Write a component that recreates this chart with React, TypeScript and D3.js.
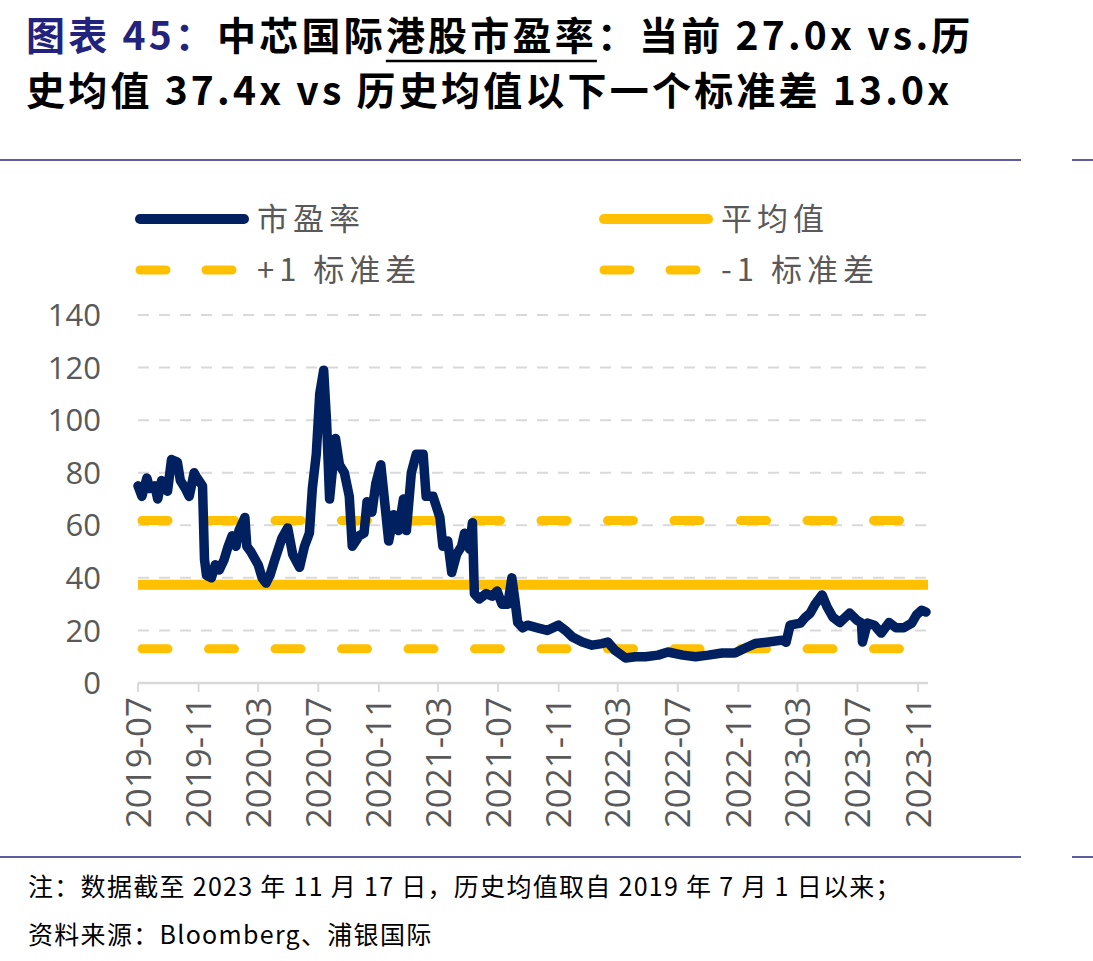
import { useRef, useEffect } from 'react';
import * as d3 from 'd3';

/* ── data ────────────────────────────────────────────────────── */
const DATES = [
  '2019-07-01', '2019-07-09', '2019-07-19', '2019-07-25', '2019-08-04', '2019-08-10', '2019-08-18', '2019-08-30',
  '2019-09-07', '2019-09-19', '2019-09-25', '2019-10-05', '2019-10-13', '2019-10-23', '2019-10-29', '2019-11-09',
  '2019-11-13', '2019-11-17', '2019-11-27', '2019-12-05', '2019-12-13', '2019-12-23', '2019-12-31', '2020-01-08',
  '2020-01-16', '2020-01-22', '2020-02-03', '2020-02-07', '2020-02-15', '2020-03-01', '2020-03-09', '2020-03-17',
  '2020-03-25', '2020-04-04', '2020-04-18', '2020-04-30', '2020-05-10', '2020-05-24', '2020-06-03', '2020-06-13',
  '2020-06-19', '2020-06-27', '2020-07-04', '2020-07-12', '2020-07-18', '2020-07-24', '2020-08-05', '2020-08-13',
  '2020-08-23', '2020-09-02', '2020-09-08', '2020-09-22', '2020-10-02', '2020-10-08', '2020-10-18', '2020-10-26',
  '2020-11-05', '2020-11-15', '2020-11-21', '2020-12-01', '2020-12-11', '2020-12-21', '2020-12-27', '2021-01-06',
  '2021-01-16', '2021-01-30', '2021-02-05', '2021-02-19', '2021-03-05', '2021-03-11', '2021-03-21', '2021-03-29',
  '2021-04-08', '2021-04-18', '2021-04-24', '2021-05-04', '2021-05-10', '2021-05-14', '2021-05-24', '2021-06-07',
  '2021-06-19', '2021-06-29', '2021-07-09', '2021-07-21', '2021-07-29', '2021-08-04', '2021-08-10', '2021-08-20',
  '2021-08-30', '2021-09-19', '2021-10-09', '2021-11-01', '2021-11-15', '2021-11-29', '2021-12-19', '2022-01-08',
  '2022-01-28', '2022-02-09', '2022-02-23', '2022-03-17', '2022-04-06', '2022-04-26', '2022-05-22', '2022-06-11',
  '2022-07-11', '2022-08-06', '2022-09-01', '2022-09-29', '2022-10-25', '2022-11-15', '2022-12-05', '2023-01-01',
  '2023-01-29', '2023-02-06', '2023-02-14', '2023-03-07', '2023-03-17', '2023-03-27', '2023-04-06', '2023-04-20',
  '2023-04-30', '2023-05-12', '2023-05-26', '2023-06-15', '2023-06-29', '2023-07-09', '2023-07-11', '2023-07-21',
  '2023-08-04', '2023-08-18', '2023-09-03', '2023-09-17', '2023-10-03', '2023-10-19', '2023-10-29', '2023-11-08',
  '2023-11-17',
];

const PE = [
  75, 71, 78, 74, 75, 70, 77, 73,
  85, 84, 77, 74, 71, 80, 78, 75,
  47, 41, 40, 45, 43, 47, 52, 56,
  52, 58, 63, 52, 50, 45, 40, 38,
  41, 47, 55, 59, 49, 44, 52, 57,
  74, 87, 110, 119, 99, 70, 93, 83,
  80, 71, 52, 56, 57, 69, 65, 76,
  83, 65, 54, 64, 58, 70, 58, 80,
  87, 87, 71, 71, 63, 52, 54, 42,
  49, 52, 57, 51, 61, 34, 32, 34,
  33, 35, 30, 30, 40, 32, 23, 21,
  22, 21, 20, 22, 20, 17.5, 15.6, 14.4,
  15, 15.6, 12.5, 9.5, 10, 10, 10.6, 11.8,
  10.6, 10, 10.6, 11.4, 11.4, 13.3, 15, 15.6,
  16.3, 15.5, 22, 22.8, 25, 26.6, 30, 33.5,
  29, 25, 23, 26.6, 24, 22.8, 15.6, 22.8,
  22, 19, 23, 21, 21, 22.8, 26, 27.7,
  27.0,
];

const MEAN = 37.4;
const PLUS_SD = 61.8;
const MINUS_SD = 13.0;

const Y_TICKS = [0, 20, 40, 60, 80, 100, 120, 140];
const X_TICKS = [
  '2019-07', '2019-11', '2020-03', '2020-07', '2020-11', '2021-03', '2021-07',
  '2021-11', '2022-03', '2022-07', '2022-11', '2023-03', '2023-07', '2023-11',
];

const LEGEND = [
  { label: '市盈率', color: '#002060', dashed: false },
  { label: '平均值', color: '#FFC000', dashed: false },
  { label: '+1 标准差', color: '#FFC000', dashed: true },
  { label: '-1 标准差', color: '#FFC000', dashed: true },
];

const NAVY = '#002060';
const GOLD = '#FFC000';
const GREY_TXT = '#595959';
const CJK = '"Noto Sans CJK SC", "Noto Sans", sans-serif';
const NUM = '"Open Sans", "Noto Sans", sans-serif';

export default function App() {
  const svgRef = useRef<SVGSVGElement>(null);

  useEffect(() => {
    const svg = d3.select(svgRef.current);
    svg.selectAll('*').remove();

    const W = 1093, H = 961;
    svg.attr('width', W).attr('height', H).attr('viewBox', `0 0 ${W} ${H}`);

    // plot area, in pixels of the reference
    const left = 138, right = 926, top = 315, bottom = 683;

    const parse = d3.timeParse('%Y-%m-%d');
    const parseM = d3.timeParse('%Y-%m');
    const series = DATES.map((d, i) => ({ date: parse(d) as Date, v: PE[i] }));

    const x = d3.scaleTime()
      .domain([parse('2019-07-01') as Date, parse('2023-11-17') as Date])
      .range([left, right]);
    const y = d3.scaleLinear().domain([0, 140]).range([bottom, top]);

    /* ── title ─────────────────────────────── */
    const t1 = svg.append('text')
      .attr('x', 26).attr('y', 50)
      .style('font-family', CJK).style('font-weight', 700).style('font-size', '39px')
      .style('letter-spacing', '3.2px');
    t1.append('tspan').attr('fill', '#23237D').text('图表 45：');
    t1.append('tspan').attr('fill', '#000').text('中芯国际港股市盈率：当前 27.0x vs.历');

    svg.append('text')
      .attr('x', 26).attr('y', 105)
      .style('font-family', CJK).style('font-weight', 700).style('font-size', '39px')
      .style('letter-spacing', '3.2px')
      .attr('fill', '#000')
      .text('史均值 37.4x vs 历史均值以下一个标准差 13.0x');

    // underline under 港股市盈率
    const tNode = t1.node() as SVGTextElement;
    const pre = '图表 45：中芯国际'.length;
    try {
      const sx = tNode.getStartPositionOfChar(pre).x;
      const ex = tNode.getEndPositionOfChar(pre + 4).x;
      svg.append('line')
        .attr('x1', sx).attr('x2', ex).attr('y1', 61).attr('y2', 61)
        .attr('stroke', '#000').attr('stroke-width', 2.5);
    } catch (e) { /* measuring failed, skip underline */ }

    /* ── separator rules ───────────────────── */
    [160, 857].forEach(yy => {
      svg.append('line').attr('x1', 0).attr('x2', 1021).attr('y1', yy).attr('y2', yy)
        .attr('stroke', '#5E5E9E').attr('stroke-width', 2);
      svg.append('line').attr('x1', 1072).attr('x2', W).attr('y1', yy).attr('y2', yy)
        .attr('stroke', '#5E5E9E').attr('stroke-width', 2);
    });

    /* ── legend ────────────────────────────── */
    LEGEND.forEach((l, i) => {
      const lx = i % 2 === 0 ? 140 : 604;
      const ly = i < 2 ? 219 : 270;
      svg.append('line')
        .attr('x1', lx).attr('x2', l.dashed ? 232 + (lx - 140) : 244 + (lx - 140))
        .attr('y1', ly).attr('y2', ly)
        .attr('stroke', l.color).attr('stroke-width', l.dashed ? 9 : 10)
        .attr('stroke-linecap', 'round')
        .attr('stroke-dasharray', l.dashed ? '26 40' : null);
      svg.append('text')
        .attr('x', lx + 117).attr('y', ly + 11)
        .attr('fill', GREY_TXT)
        .style('font-family', CJK).style('font-size', '31px')
        .style('letter-spacing', '5px')
        .text(l.label);
    });

    /* ── gridlines ─────────────────────────── */
    svg.append('g').selectAll('line')
      .data(Y_TICKS.filter(v => v > 0))
      .join('line')
      .attr('x1', left).attr('x2', right + 2)
      .attr('y1', d => y(d)).attr('y2', d => y(d))
      .attr('stroke', '#D9D9D9').attr('stroke-width', 2)
      .attr('stroke-dasharray', '11 10');

    // y labels
    svg.append('g').selectAll('text')
      .data(Y_TICKS)
      .join('text')
      .attr('x', 101).attr('y', d => y(d))
      .attr('dy', '0.36em')
      .attr('text-anchor', 'end')
      .attr('fill', GREY_TXT)
      .style('font-family', NUM).style('font-size', '31px')
      .text(d => d);

    // x axis
    const xAxis = svg.append('g').attr('transform', `translate(0,${bottom})`);
    xAxis.append('line').attr('x1', left).attr('x2', right + 2)
      .attr('stroke', '#D9D9D9').attr('stroke-width', 2.5);
    const tickDates = X_TICKS.map(t => parseM(t) as Date);
    xAxis.selectAll('line.tick')
      .data(tickDates)
      .join('line').attr('class', 'tick')
      .attr('x1', d => x(d)).attr('x2', d => x(d))
      .attr('y1', 0).attr('y2', 9)
      .attr('stroke', '#D9D9D9').attr('stroke-width', 2);
    svg.append('g').selectAll('text')
      .data(tickDates)
      .join('text')
      .attr('transform', d => `translate(${x(d)},${bottom + 14}) rotate(-90)`)
      .attr('dy', '0.36em')
      .attr('text-anchor', 'end')
      .attr('fill', GREY_TXT)
      .style('font-family', NUM).style('font-size', '35px')
      .text(d => d3.timeFormat('%Y-%m')(d));

    /* ── mean / sd lines ───────────────────── */
    svg.append('line')
      .attr('x1', left).attr('x2', right + 2)
      .attr('y1', y(MEAN)).attr('y2', y(MEAN))
      .attr('stroke', GOLD).attr('stroke-width', 10);
    [PLUS_SD, MINUS_SD].forEach(v => {
      svg.append('line')
        .attr('x1', left + 4).attr('x2', right)
        .attr('y1', y(v)).attr('y2', y(v))
        .attr('stroke', GOLD).attr('stroke-width', 9)
        .attr('stroke-linecap', 'round')
        .attr('stroke-dasharray', '26 40.5');
    });

    /* ── P/E line ──────────────────────────── */
    const line = d3.line<{ date: Date; v: number }>()
      .x(d => x(d.date))
      .y(d => y(d.v));
    svg.append('path')
      .datum(series)
      .attr('d', line)
      .attr('fill', 'none')
      .attr('stroke', NAVY)
      .attr('stroke-width', 9.5)
      .attr('stroke-linejoin', 'round')
      .attr('stroke-linecap', 'round');

    /* ── footer ────────────────────────────── */
    svg.append('text')
      .attr('x', 28).attr('y', 896)
      .attr('fill', '#000')
      .style('font-family', CJK).style('font-size', '25px')
      .style('letter-spacing', '1.3px')
      .text('注：数据截至 2023 年 11 月 17 日，历史均值取自 2019 年 7 月 1 日以来；');
    svg.append('text')
      .attr('x', 28).attr('y', 944)
      .attr('fill', '#000')
      .style('font-family', CJK).style('font-size', '25px')
      .style('letter-spacing', '1.3px')
      .text('资料来源：Bloomberg、浦银国际');
  }, []);

  return (
    <svg ref={svgRef} style={{ position: 'absolute', left: 0, top: 0, background: '#fff' }} />
  );
}
